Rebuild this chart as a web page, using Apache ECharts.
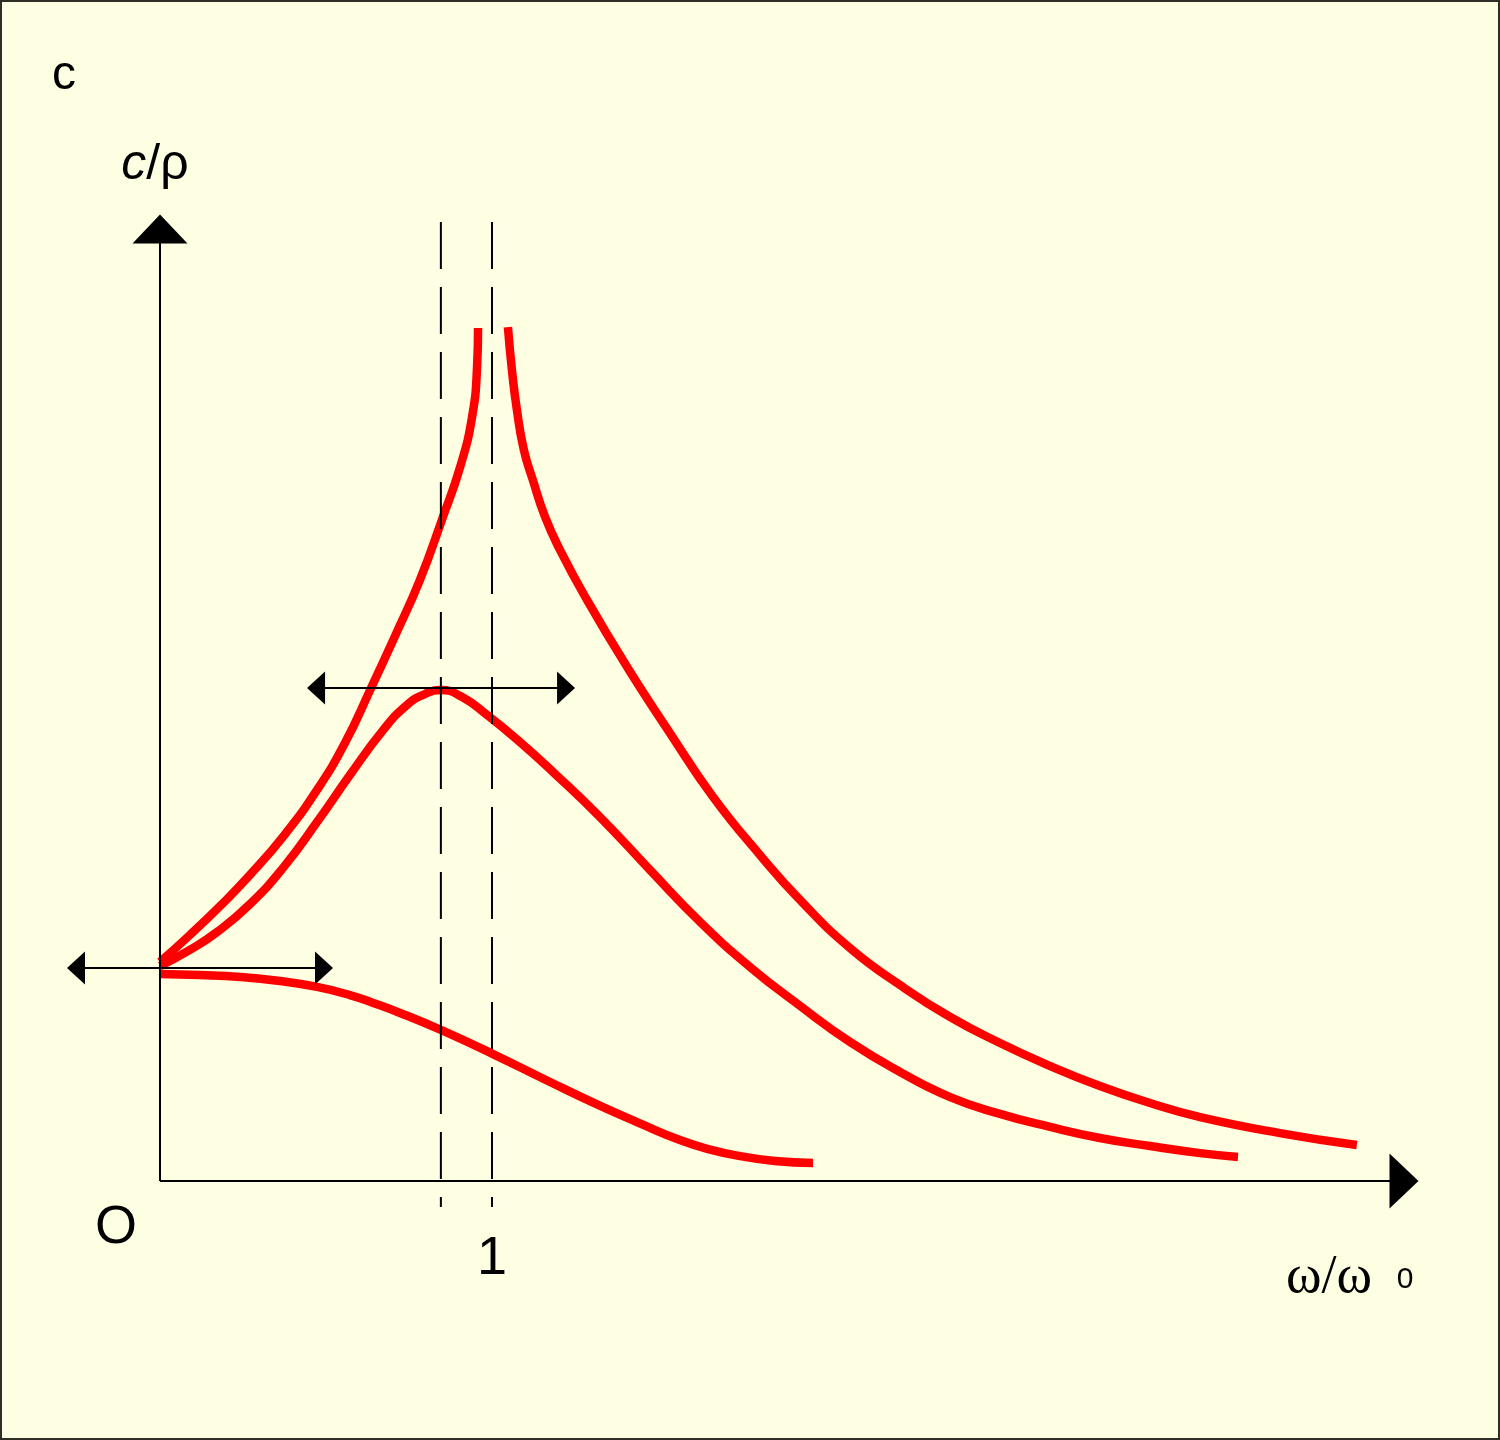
<!DOCTYPE html>
<html><head><meta charset="utf-8">
<script src="https://cdn.jsdelivr.net/npm/echarts@6/dist/echarts.min.js"></script>
<style>
html,body{margin:0;padding:0;background:#fefee2;}
#wrap{position:relative;width:1500px;height:1440px;}
#chart{width:1500px;height:1440px;}
#frame{position:absolute;left:0;top:0;width:1500px;height:1440px;box-sizing:border-box;border:2px solid #2e2e26;pointer-events:none;}
</style></head><body>
<div id="wrap"><div id="chart"></div><div id="frame"></div></div>
<script>
// x = omega/omega0, y = c/rho (relative units, low-frequency value = 1)
const curveUndampedBelow = [[0,1.028],[0.090,1.155],[0.181,1.291],[0.271,1.437],[0.377,1.629],[0.473,1.836],[0.557,2.056],[0.633,2.305],[0.708,2.559],[0.783,2.822],[0.852,3.117],[0.904,3.352],[0.940,3.587],[0.955,3.822],[0.958,4.005]];
const curveUndampedAbove = [[1.048,4.009],[1.060,3.808],[1.075,3.620],[1.096,3.432],[1.123,3.291],[1.160,3.117],[1.205,2.962],[1.286,2.728],[1.407,2.413],[1.536,2.103],[1.666,1.803],[1.807,1.531],[1.928,1.319],[2.078,1.094],[2.229,0.920],[2.380,0.770],[2.530,0.648],[2.681,0.540],[2.831,0.446],[2.982,0.366],[3.133,0.300],[3.373,0.225],[3.605,0.169]];
const curveDamped = [[0,1.009],[0.090,1.085],[0.172,1.169],[0.271,1.300],[0.370,1.469],[0.473,1.685],[0.572,1.906],[0.672,2.117],[0.744,2.235],[0.798,2.286],[0.846,2.305],[0.910,2.272],[0.985,2.188],[1.084,2.061],[1.184,1.920],[1.325,1.709],[1.476,1.460],[1.627,1.216],[1.777,1.005],[1.928,0.822],[2.078,0.653],[2.229,0.512],[2.380,0.394],[2.530,0.315],[2.681,0.254],[2.831,0.202],[2.982,0.164],[3.133,0.131],[3.247,0.113]];
const curveStrongDamped = [[0,0.972],[0.120,0.967],[0.241,0.958],[0.361,0.939],[0.473,0.911],[0.572,0.873],[0.642,0.836],[0.723,0.789],[0.846,0.709],[1.003,0.596],[1.181,0.460],[1.313,0.362],[1.449,0.268],[1.566,0.192],[1.651,0.150],[1.747,0.117],[1.852,0.094],[1.967,0.085]];
const peakX = 0.846;      // resonance of damped curve
const resonanceX = 1;     // omega = omega0
const dashSpan = [-0.122, 4.502];
const yArrowTop = 4.469;
const xArrowEnd = 3.747;
const lowArrow = {y: 1.0, x0: -0.253, x1: 0.494};
const peakArrow = {y: 2.315, x0: 0.470, x1: 1.223};
const xTickLabels = [1];

const RED = '#ff0000', BLACK = '#000';
function redLine(data){
  return {type:'line', data:data, smooth:0.5, showSymbol:false, symbol:'none',
    lineStyle:{color:RED, width:8.5, cap:'butt'}, silent:true, z:2};
}
function dashLine(x){
  return {type:'line', data:[[x,dashSpan[1]],[x,dashSpan[0]]], showSymbol:false, symbol:'none',
    lineStyle:{color:BLACK, width:2, type:[47,18]}, silent:true, z:3};
}
function hArrow(a){
  return {type:'line', silent:true, z:4, showSymbol:true,
    lineStyle:{color:BLACK, width:2}, itemStyle:{color:BLACK},
    data:[{value:[a.x0,a.y], symbol:'triangle', symbolSize:[33,18], symbolRotate:90},
          {value:[a.x1,a.y], symbol:'triangle', symbolSize:[33,18], symbolRotate:-90}]};
}
const chart = echarts.init(document.getElementById('chart'), null, {renderer:'canvas'});
chart.setOption({
  backgroundColor:'#fefee2',
  animation:false,
  grid:{left:60.4, right:45.2, top:201.2, bottom:216.4, outerBoundsMode:'none'},
  xAxis:{type:'value', min:-0.3, max:3.9, axisLine:{show:false, onZero:true}, axisTick:{show:false}, splitLine:{show:false},
    axisLabel:{customValues:xTickLabels, formatter:v=>String(v), fontSize:54, fontFamily:'Liberation Sans', color:BLACK, margin:9}},
  yAxis:{type:'value', min:-0.2, max:4.6, show:false, splitLine:{show:false}},
  series:[
    redLine(curveUndampedBelow), redLine(curveUndampedAbove), redLine(curveDamped), redLine(curveStrongDamped),
    dashLine(peakX), dashLine(resonanceX),
    {type:'line', silent:true, z:4, lineStyle:{color:BLACK,width:2}, itemStyle:{color:BLACK}, showSymbol:true,
      data:[{value:[0,0], symbol:'none'}, {value:[0,yArrowTop], symbol:'triangle', symbolSize:[55,29], symbolRotate:0}]},
    {type:'line', silent:true, z:4, lineStyle:{color:BLACK,width:2}, itemStyle:{color:BLACK}, showSymbol:true,
      data:[{value:[0,0], symbol:'none'}, {value:[xArrowEnd,0], symbol:'triangle', symbolSize:[55,29], symbolRotate:-90}]},
    hArrow(lowArrow), hArrow(peakArrow)
  ],
  graphic:[
    {type:'text', x:64, y:76, style:{text:'c', font:'48px "Liberation Sans"', fill:BLACK, align:'center', verticalAlign:'middle', textAlign:'center', textVerticalAlign:'middle'}},
    {type:'text', x:155, y:165, style:{text:'{i|c}{n|/ρ}', rich:{i:{fontStyle:'italic', fontSize:50, fontFamily:'Liberation Sans', fill:BLACK}, n:{fontSize:50, fontFamily:'Liberation Sans', fill:BLACK}}, align:'center', verticalAlign:'middle', textAlign:'center', textVerticalAlign:'middle'}},
    {type:'text', x:116, y:1228, style:{text:'O', font:'54px "Liberation Sans"', fill:BLACK, align:'center', verticalAlign:'middle', textAlign:'center', textVerticalAlign:'middle'}},
    {type:'text', x:1329, y:1278, style:{text:'ω/ω', font:'54px "Liberation Serif"', fill:BLACK, align:'center', verticalAlign:'middle', textAlign:'center', textVerticalAlign:'middle'}},
    {type:'text', x:1405, y:1280, style:{text:'0', font:'30px "Liberation Sans"', fill:BLACK, align:'center', verticalAlign:'middle', textAlign:'center', textVerticalAlign:'middle'}}
  ]
});
</script>
</body></html>
